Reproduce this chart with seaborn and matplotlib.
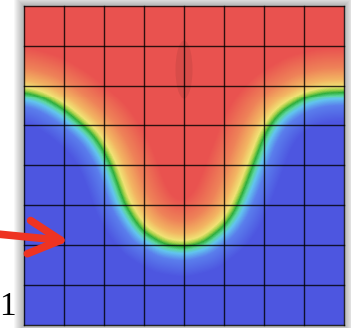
import numpy as np
import pandas as pd
import matplotlib
matplotlib.use("Agg")
import matplotlib.pyplot as plt
import seaborn as sns
from matplotlib.colors import LinearSegmentedColormap
from matplotlib.patches import Ellipse, Rectangle

# front position, in grid cells (x to the right, y downwards)
front_x = [0, 0.5, 1, 1.5, 1.75, 2, 2.18, 2.3, 2.5, 2.75, 3, 3.5, 4,
           4.5, 5, 5.25, 5.5, 5.75, 6, 6.25, 6.5, 7, 7.5, 8]
front_y = [2.16, 2.31, 2.61, 3.03, 3.28, 3.66, 4.03, 4.36, 4.93, 5.36, 5.68, 5.98, 6.06,
           5.93, 5.53, 5.18, 4.61, 3.94, 3.28, 2.86, 2.61, 2.31, 2.18, 2.16]
n_cells = 8
label = "1"

W, H = 351, 328
res = 40  # samples per cell (1 sample = 1 px)
n = n_cells * res

# signed distance (px) to the front, positive on the red side
pos = (np.arange(n) + 0.5) / res
X, Y = np.meshgrid(pos, pos)
fx = np.array(front_x)
fy = np.array(front_y)
dist = np.full(X.shape, np.inf)
for i in range(len(fx) - 1):
    x0, y0 = fx[i], fy[i]
    dx, dy = fx[i + 1] - x0, fy[i + 1] - y0
    t = np.clip(((X - x0) * dx + (Y - y0) * dy) / (dx * dx + dy * dy), 0, 1)
    dist = np.minimum(dist, np.hypot(X - (x0 + t * dx), Y - (y0 + t * dy)))
sign = np.where(Y < np.interp(X, fx, fy), 1.0, -1.0)
sd = sign * dist * res


# box blur to round off the polyline corners
def blur(a, r):
    p = np.pad(a, ((r, r), (r, r)), mode="edge")
    c = np.cumsum(np.pad(p, ((1, 0), (0, 0))), axis=0)
    p = (c[2 * r + 1:] - c[:-2 * r - 1]) / (2 * r + 1)
    c = np.cumsum(np.pad(p, ((0, 0), (1, 0))), axis=1)
    return (c[:, 2 * r + 1:] - c[:, :-2 * r - 1]) / (2 * r + 1)


for _ in range(3):
    sd = blur(sd, 5)
field = pd.DataFrame(sd)

vmin, vmax = -30, 45
stops = [(-30, "#4d56e0"), (-14, "#5a7eec"), (-7, "#62c4ee"), (-3.5, "#5cd6a0"),
         (0, "#2fae3c"), (3, "#a6d24a"), (6, "#f0e274"), (13, "#f2b462"),
         (25, "#ee8258"), (45, "#e9524f")]
cmap = LinearSegmentedColormap.from_list(
    "front", [((d - vmin) / (vmax - vmin), c) for d, c in stops])

fig = plt.figure(figsize=(W / 100, H / 100), dpi=100)
fig.patch.set_facecolor("white")

left, right, top, bottom = 24, 344, 5.7, 325
ax = fig.add_axes([left / W, (H - bottom) / H, (right - left) / W, (bottom - top) / H])

# soft drop shadow round the picture
for k in range(1, 11):
    fig.add_artist(Rectangle(((left - k) / W, (H - bottom - k) / H),
                             (right - left + 2 * k) / W, (bottom - top + 2 * k) / H,
                             transform=fig.transFigure, facecolor="black",
                             edgecolor="none", alpha=0.03, zorder=0))

sns.heatmap(field, cmap=cmap, vmin=vmin, vmax=vmax, cbar=False,
            xticklabels=False, yticklabels=False, ax=ax, rasterized=True)
ax.set_zorder(1)

ax.add_patch(Ellipse((160, 64), 17, 58, facecolor="black", edgecolor="none", alpha=0.07))

for k in range(n_cells + 1):
    ax.axvline(k * res, color="black", lw=1.0, alpha=0.8, clip_on=False)
    ax.axhline(k * res, color="black", lw=1.0, alpha=0.8, clip_on=False)

ax.annotate("", xy=(69, H - 241), xytext=(-3, H - 234),
            xycoords="figure pixels", textcoords="figure pixels",
            arrowprops=dict(arrowstyle="->,head_length=1.15,head_width=0.6",
                            mutation_scale=20, color="#ee3322", lw=5.5,
                            shrinkA=0, shrinkB=0,
                            capstyle="round", joinstyle="round"),
            annotation_clip=False, zorder=5)

fig.text(7 / W, (H - 315) / H, label, ha="center", va="baseline",
         fontsize=24, family="Liberation Serif", color="black")

fig.savefig("out.png", dpi=100)
